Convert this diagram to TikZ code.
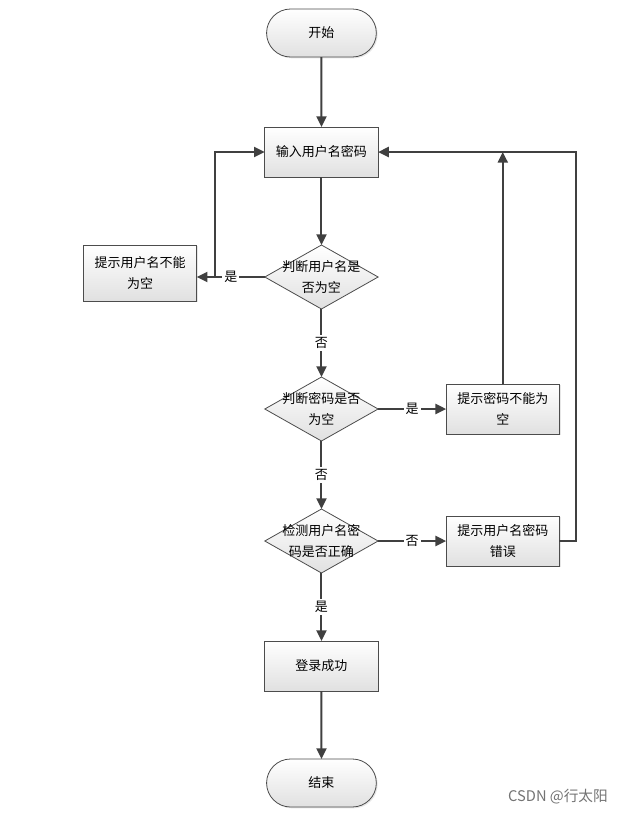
\documentclass[tikz,border=0pt]{standalone}
\usepackage{fontspec}
\setmainfont{Noto Sans CJK SC}
\usetikzlibrary{shapes.geometric, shapes.misc, arrows.meta, shadows}
\usetikzlibrary{positioning}
\definecolor{linegray}{HTML}{404040}
\tikzset{
  se/.style={rounded rectangle, minimum width=89pt, minimum height=36pt, text centered, draw=black!70, line width=0.6pt, outer sep=0pt, top color=white, bottom color=black!12, drop shadow={opacity=0.2, shadow xshift=1pt, shadow yshift=-1pt}},
  op/.style={rectangle, minimum width=85pt, minimum height=37.5pt, align=center, draw=black!70, line width=0.6pt, outer sep=0pt, top color=white, bottom color=black!12, drop shadow={opacity=0.2, shadow xshift=1pt, shadow yshift=-1pt}},
  cn/.style={diamond, minimum width=85pt, minimum height=48pt, inner sep=0pt, outer sep=0pt, draw=black!70, line width=0.6pt, top color=white, bottom color=black!12},
  lbl/.style={fill=white, inner sep=1.5pt},
  node distance=51pt
}

\begin{document}
\begin{tikzpicture}[font=\fontsize{9.75pt}{15.5pt}\selectfont, >={Triangle[length=8pt,width=7.5pt]}]
\useasboundingbox (-241.1pt,24.75pt) rectangle (225.4pt,-586.5pt);
\node[se] (start) at (0,0) {开始};
\node[op, below=52.5pt of start] (input) {输入用户名密码};
\node[cn, below=of input, label={[align=center]center:{判断用户名是\\否为空}}] (chkuser) {};
\node[op, left=of chkuser, minimum height=42pt, yshift=3pt] (nouser) {提示用户名不能\\为空};
\node[cn, below=of chkuser, label={[align=center]center:{判断密码是否\\为空}}] (chkpwd) {};
\node[op, right=of chkpwd] (nopwd) {提示密码不能为\\空};
\node[cn, below=of chkpwd, label={[align=center]center:{检测用户名密\\码是否正确}}] (chkboth) {};
\node[op, right=of chkboth] (wrong) {提示用户名密码\\错误};
\node[op, below=of chkboth] (login) {登录成功};
\node[se, below=of login] (stop) {结束};
\node[text=black!55, font=\fontsize{11pt}{13pt}\selectfont] (mark) at (177.4pt,-573pt) {CSDN @行太阳};

%
\begin{scope}[draw=linegray, line width=1.5pt]
\draw[->] (start) -- (input);
\draw[->] (input) -- (chkuser);
\draw[->] (chkuser) -- node[lbl] {是} (chkuser -| nouser.east);
\draw[->] ([xshift=13.5pt]nouser.east |- chkuser) |- (input.west);
\draw[->] (chkuser) -- node[lbl] {否} (chkpwd);
\draw[->] (chkpwd) -- node[lbl] {是} (nopwd);
\draw[->] (nopwd) -- (nopwd |- input.east);
\draw[->] (chkpwd) -- node[lbl] {否} (chkboth);
\draw[->] (chkboth) -- node[lbl] {否} (wrong);
\draw[->] (wrong.east) -- ++(12.75pt,0) |- (input.east);
\draw[->] (chkboth) -- node[lbl] {是} (login);
\draw[->] (login) -- (stop);
\end{scope}
\end{tikzpicture}
\end{document}
